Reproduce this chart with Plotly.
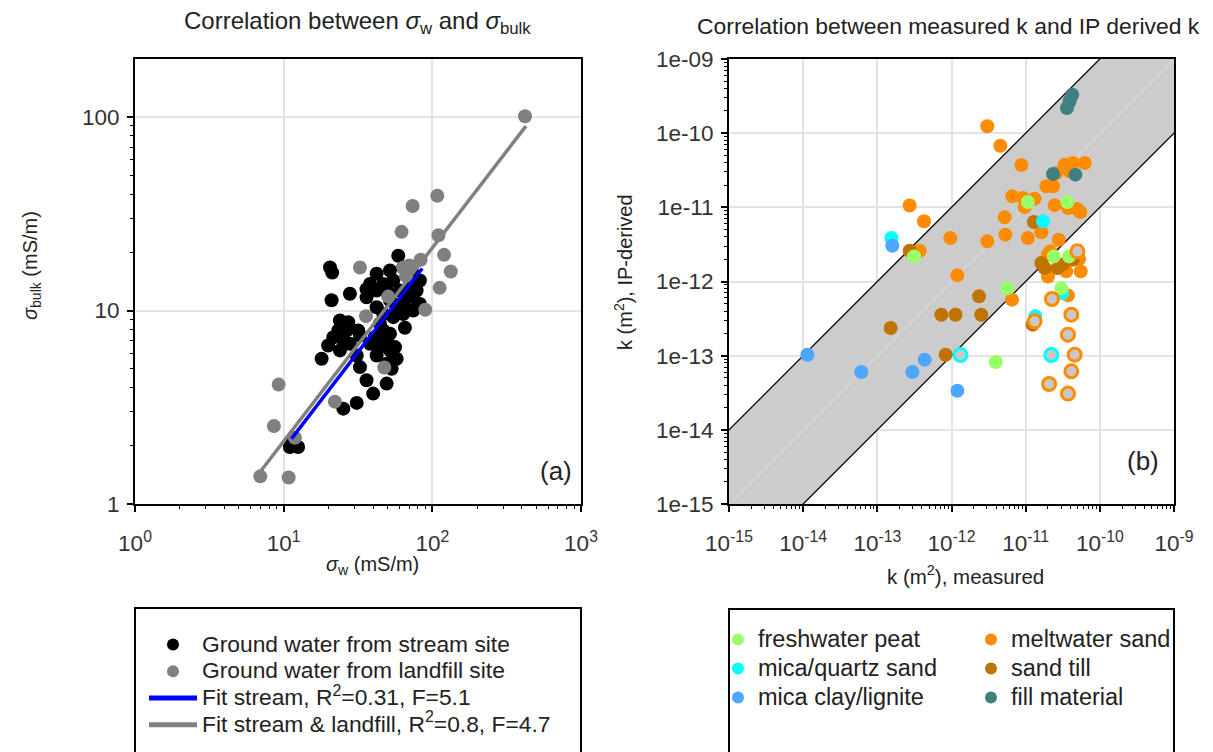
import numpy as np
import plotly.graph_objects as go

# ---------------- data: panel (a) ----------------
stream_sw = [20.5, 21.2, 59.0, 42.2, 51.9, 21.0, 27.9, 36.1, 42.2, 46.8, 54.6, 70.7, 78.4, 82.5,
             74.4, 63.7, 57.5, 51.9, 23.9, 27.2, 23.3, 26.5, 31.7, 32.6, 19.9, 25.2, 23.9, 18.0,
             31.0, 41.1, 46.8, 49.3, 44.4, 51.9, 42.2, 54.6, 49.3, 57.5, 65.4, 32.6, 53.2, 36.1,
             49.3, 40.0, 31.0, 25.2, 67.2, 60.5, 49.3, 36.1, 42.2, 46.8, 54.6, 63.7, 74.4, 82.5,
             74.4, 63.7, 38.1, 44.4, 51.9, 38.1, 21.6, 27.9, 56.1, 11.0, 12.5, 11.4]
stream_sb = [16.7, 15.7, 19.2, 15.5, 16.1, 11.3, 12.2, 12.9, 12.7, 13.7, 14.3, 13.7, 12.7, 10.8,
             10.0, 9.6, 10.4, 11.3, 8.88, 8.7, 7.89, 7.89, 7.89, 7.43, 6.6, 7.0, 6.22, 5.63,
             5.86, 7.28, 7.89, 7.0, 6.47, 6.22, 5.86, 5.75, 5.31, 5.63, 8.15, 5.1, 5.0, 4.36,
             4.19, 3.72, 3.33, 3.11, 12.2, 12.7, 12.7, 11.7, 10.4, 9.6, 9.24, 10.8, 11.7, 14.3,
             15.5, 16.7, 13.7, 8.54, 7.58, 6.73, 7.28, 6.73, 6.47, 1.97, 1.97, 2.14]

landfill_sw = [420, 108, 73.7, 62.1, 110, 120, 133, 112, 89.6, 83.4, 70, 63.8, 32.6, 50.5,
               35.8, 47.5, 9.25, 8.6, 11.9, 6.96, 10.8, 22.1, 66.5]
landfill_sb = [101, 39.2, 34.7, 25.5, 24.5, 19.4, 15.9, 13.1, 10.1, 18.3, 17.1, 16.7, 16.7, 11.8,
               9.35, 5.08, 4.14, 2.53, 2.2, 1.39, 1.37, 3.38, 15.1]

# log-log fits: log10(sb) = intercept + slope*log10(sw)
fit_stream = dict(slope=1.0, intercept=-0.715, x_range=[11.3, 85.5])
fit_all = dict(slope=1.0, intercept=-0.676, x_range=[7.0, 426])

# ---------------- data: panel (b) ----------------
peat_meas = [1.07e-11, 3.65e-11, 3.12e-13, 2.39e-11, 3.84e-11, 5.66e-12, 3.03e-11, 3.95e-12]
peat_ip = [1.18e-11, 1.18e-11, 2.18e-12, 2.18e-12, 2.18e-12, 8.09e-13, 8.09e-13, 8.22e-14]

mq_meas = [1.55e-13, 1.71e-11, 3.12e-11, 1.35e-11]
mq_ip = [3.86e-12, 6.48e-12, 7.0e-13, 3.39e-13]
mq_open_meas = [1.32e-12, 2.22e-11]
mq_open_ip = [1.02e-13, 1.02e-13]

clay_meas = [1.59e-13, 1.14e-14, 6.08e-14, 2.97e-13, 4.35e-13, 1.2e-12]
clay_ip = [3.04e-12, 1.03e-13, 6.02e-14, 6.02e-14, 8.83e-14, 3.37e-14]

melt_meas = [3.04e-12, 4.55e-12, 8.75e-12, 3.36e-11, 4.34e-11, 6.25e-11, 3.92e-11, 2.59e-11,
             1.9e-11, 2.34e-11, 6.61e-12, 9.2e-12, 1.32e-11, 9.7e-12, 2.46e-11, 3.72e-11,
             4.92e-11, 5.46e-11, 2.73e-13, 4.26e-13, 5.21e-12, 1.63e-11, 2.79e-11, 1.07e-11,
             5.32e-12, 3.04e-12, 9.64e-13, 3.72e-13, 1.2e-12, 2.15e-11, 2.0e-11, 3.53e-11,
             5.52e-11, 5.24e-11, 6.55e-12, 3.72e-11, 2.0e-11]
melt_ip = [1.24e-10, 6.78e-11, 3.72e-11, 3.76e-11, 3.96e-11, 3.96e-11, 3.06e-11, 2.9e-11,
           1.92e-11, 1.92e-11, 1.41e-11, 1.34e-11, 1.31e-11, 1.01e-11, 1.07e-11, 9.8e-12,
           9.5e-12, 8.65e-12, 1.06e-11, 6.48e-12, 7.33e-12, 4.6e-12, 3.66e-12, 3.86e-12,
           4.28e-12, 3.48e-12, 3.86e-12, 2.6e-12, 1.21e-12, 2.55e-12, 1.17e-12, 1.37e-12,
           1.37e-12, 2.01e-12, 5.69e-13, 6.5e-13, 2.3e-12]
melt_open_meas = [2.26e-11, 4.13e-11, 1.32e-11, 3.72e-11, 4.58e-11, 4.13e-11, 2.07e-11, 3.72e-11, 4.98e-11]
melt_open_ip = [5.81e-13, 3.57e-13, 2.9e-13, 1.92e-13, 1.03e-13, 6.15e-14, 4.15e-14, 3.08e-14, 2.55e-12]

till_meas = [2.73e-13, 1.29e-11, 1.63e-11, 1.8e-11, 2.7e-11, 3.15e-11, 4.34e-11, 2.35e-12,
             7.3e-13, 1.13e-12, 2.52e-12, 1.51e-13, 8.34e-13, 1.24e-11]
till_ip = [2.6e-12, 6.34e-12, 1.78e-12, 1.52e-12, 1.52e-12, 1.69e-12, 1.97e-12, 6.31e-13,
           3.57e-13, 3.57e-13, 3.57e-13, 2.36e-13, 1.03e-13, 2.62e-13]

fill_meas = [4.25e-11, 3.92e-11, 3.6e-11, 2.34e-11, 4.68e-11]
fill_ip = [3.3e-10, 2.69e-10, 2.18e-10, 2.81e-11, 2.76e-11]

band_factor = 10.0          # one order of magnitude either side of 1:1
band_x = [1e-16, 1e-8]

left_xticks = [1, 10, 100, 1000]
left_xtext = ['10<sup>0</sup>', '10<sup>1</sup>', '10<sup>2</sup>', '10<sup>3</sup>']
left_yticks = [1, 10, 100]
left_ytext = ['1', '10', '100']
right_ticks = [1e-15, 1e-14, 1e-13, 1e-12, 1e-11, 1e-10, 1e-9]
right_xtext = ['10<sup>-15</sup>', '10<sup>-14</sup>', '10<sup>-13</sup>', '10<sup>-12</sup>',
               '10<sup>-11</sup>', '10<sup>-10</sup>', '10<sup>-9</sup>']
right_ytext = ['1e-15', '1e-14', '1e-13', '1e-12', '1e-11', '1e-10', '1e-09']


def minor_vals(d0, d1):
    return [m * 10.0 ** d for d in range(d0, d1) for m in range(2, 10)]


# ---------------- layout helpers ----------------
SCREEN_W, SCREEN_H = 1213, 752
OFF = 8                      # page body margin
FW, FH = SCREEN_W - OFF, SCREEN_H - OFF
FONT = 'Liberation Sans, Arial, Helvetica, sans-serif'


def fx(p):
    return (p - OFF) / FW


def fy(p):
    return 1 - (p - OFF) / FH


colors = dict(peat='#99ff66', mq='#00ffff', clay='#4da6ff', melt='#ff8c00',
              till='#bf7300', fill='#408080')
OPEN_FILL = '#c8c8c8'


def big(txt, size):
    return '<span style="font-size:%.1fpx">%s</span>' % (size, txt)


fig = go.Figure()

# ---- panel (a) ----
fig.add_trace(go.Scatter(x=stream_sw, y=stream_sb, mode='markers', name=big('Ground water from stream site', 22.8),
                         marker=dict(color='black', size=14), xaxis='x', yaxis='y',
                         legend='legend', legendrank=1))
fig.add_trace(go.Scatter(x=landfill_sw, y=landfill_sb, mode='markers', name=big('Ground water from landfill site', 22.8),
                         marker=dict(color='#808080', size=14), xaxis='x', yaxis='y',
                         legend='legend', legendrank=2))
for fit, col, name, rank in [(fit_all, '#808080', 'Fit stream & landfill, R<sup>2</sup>=0.8, F=4.7', 4),
                             (fit_stream, '#0000ff', 'Fit stream, R<sup>2</sup>=0.31, F=5.1', 3)]:
    xs = np.array(fit['x_range'], dtype=float)
    ys = 10 ** (fit['intercept'] + fit['slope'] * np.log10(xs))
    fig.add_trace(go.Scatter(x=xs, y=ys, mode='lines', name=big(name, 22.8), line=dict(color=col, width=3.5),
                             xaxis='x', yaxis='y', legend='legend', legendrank=rank))

# ---- panel (b) ----
bx = np.array(band_x)
band_poly_x = np.concatenate([bx, bx[::-1]])
band_poly_y = np.concatenate([bx * band_factor, bx[::-1] / band_factor])
fig.add_trace(go.Scatter(x=band_poly_x, y=band_poly_y, mode='lines', fill='toself', fillcolor='#cccccc',
                         line=dict(color='black', width=1.3), showlegend=False, hoverinfo='skip',
                         xaxis='x2', yaxis='y2'))
fig.add_trace(go.Scatter(x=bx, y=bx, mode='lines', line=dict(color='#dedede', width=1),
                         showlegend=False, hoverinfo='skip', xaxis='x2', yaxis='y2'))

series = [
    ('meltwater sand', melt_meas, melt_ip, colors['melt'], 'legend3', 1),
    ('sand till', till_meas, till_ip, colors['till'], 'legend3', 2),
    ('mica/quartz sand', mq_meas, mq_ip, colors['mq'], 'legend2', 2),
    ('mica clay/lignite', clay_meas, clay_ip, colors['clay'], 'legend2', 3),
    ('freshwater peat', peat_meas, peat_ip, colors['peat'], 'legend2', 1),
    ('fill material', fill_meas, fill_ip, colors['fill'], 'legend3', 3),
]
for name, xm, yi, col, leg, rank in series:
    fig.add_trace(go.Scatter(x=xm, y=yi, mode='markers', name=big(name, 23.5), marker=dict(color=col, size=14),
                             xaxis='x2', yaxis='y2', legend=leg, legendrank=rank))

for xm, yi, col in [(melt_open_meas, melt_open_ip, colors['melt']), (mq_open_meas, mq_open_ip, colors['mq'])]:
    fig.add_trace(go.Scatter(x=xm, y=yi, mode='markers', showlegend=False,
                             marker=dict(color=OPEN_FILL, size=13, line=dict(color=col, width=3)),
                             xaxis='x2', yaxis='y2'))

axis_common = dict(type='log', showline=True, linecolor='black', linewidth=2, mirror=True,
                   ticks='outside', ticklen=6, tickwidth=1.5, tickcolor='black',
                   showgrid=True, gridcolor='#e3e3e3', gridwidth=1.5, zeroline=False,
                   tickfont=dict(size=22.5, color='#333333', family=FONT),
                   tickmode='array', automargin=False)

minor_common = dict(ticks='outside', ticklen=3, tickcolor='black', tickwidth=1, showgrid=False,
                    tickmode='array')

legend_common = dict(xanchor='left', yanchor='top', bgcolor='rgba(0,0,0,0)', itemsizing='constant',
                     traceorder='normal')

fig.update_layout(
    width=FW, height=FH, margin=dict(l=0, r=0, t=0, b=0),
    paper_bgcolor='white', plot_bgcolor='white',
    font=dict(family=FONT, color='#222222'),
    xaxis=dict(axis_common, domain=[fx(135), fx(581)], range=[0, 3], anchor='y',
               tickvals=left_xticks, ticktext=left_xtext, ticklabelstandoff=12,
               minor=dict(minor_common, tickvals=minor_vals(0, 3))),
    yaxis=dict(axis_common, domain=[fy(504), fy(59)], range=[0, 2.3], anchor='x',
               tickvals=left_yticks, ticktext=left_ytext, ticklabelstandoff=3,
               minor=dict(minor_common, tickvals=minor_vals(0, 3))),
    xaxis2=dict(axis_common, domain=[fx(729), fx(1174)], range=[-15, -9], anchor='y2',
                tickvals=right_ticks, ticktext=right_xtext, ticklabelstandoff=12,
                minor=dict(minor_common, tickvals=minor_vals(-15, -9))),
    yaxis2=dict(axis_common, domain=[fy(504), fy(59)], range=[-15, -9], anchor='x2',
                tickvals=right_ticks, ticktext=right_ytext, ticklabelstandoff=3,
                minor=dict(minor_common, tickvals=minor_vals(-15, -9))),
    legend=dict(legend_common, x=fx(144), y=fy(626), itemwidth=48,
                font=dict(size=18.3, color='#222222', family=FONT)),
    legend2=dict(legend_common, x=fx(718), y=fy(620),
                 font=dict(size=20, color='#222222', family=FONT)),
    legend3=dict(legend_common, x=fx(971), y=fy(620),
                 font=dict(size=20, color='#222222', family=FONT)),
    showlegend=True,
)

# legend frames
for x0, x1, y0 in [(135, 581, 608), (729, 1174, 609)]:
    fig.add_shape(type='rect', xref='paper', yref='paper', x0=fx(x0), x1=fx(x1), y0=fy(y0), y1=fy(SCREEN_H + 10),
                  line=dict(color='black', width=2), fillcolor='rgba(0,0,0,0)', layer='below')

ann = [
    dict(x=357.5, y=23, text='Correlation between <i>σ</i><sub>w</sub> and <i>σ</i><sub>bulk</sub>', size=24, angle=0),
    dict(x=948, y=26, text='Correlation between measured k and IP derived k', size=22.9, angle=0),
    dict(x=372, y=565, text='<i>σ</i><sub>w</sub> (mS/m)', size=20, angle=0),
    dict(x=965, y=575, text='k (m<sup>2</sup>), measured', size=20.5, angle=0),
    dict(x=31, y=266, text='<i>σ</i><sub>bulk</sub> (mS/m)', size=20, angle=-90),
    dict(x=623, y=272, text='k (m<sup>2</sup>), IP-derived', size=20, angle=-90),
    dict(x=556, y=471, text='(a)', size=26, angle=0),
    dict(x=1143, y=461, text='(b)', size=26, angle=0),
]
for a in ann:
    fig.add_annotation(x=fx(a['x']), y=fy(a['y']), xref='paper', yref='paper', text=a['text'],
                       showarrow=False, textangle=a['angle'], xanchor='center', yanchor='middle',
                       font=dict(size=a['size'], color='#222222', family=FONT))

fig.write_html('out.html')
